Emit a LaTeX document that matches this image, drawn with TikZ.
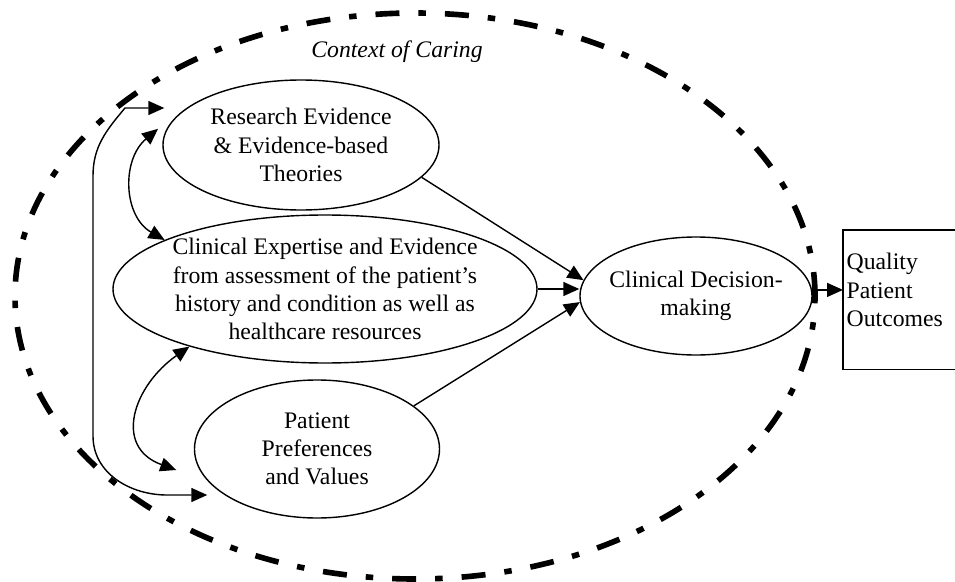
\documentclass[tikz,border=0pt]{standalone}
\usepackage{fontspec}
\setmainfont{Liberation Serif}
\usetikzlibrary{shapes.geometric,arrows.meta}
\begin{document}
\begin{tikzpicture}[line width=0.8pt,
  txt/.style={font=\fontsize{13.5}{16}\selectfont},
  oval/.style={txt,draw,ellipse,inner xsep=-0.15cm,inner ysep=0pt,align=center},
  tri/.style={-{Triangle[length=0.32cm,width=0.28cm]}},
  both/.style={{Triangle[length=0.32cm,width=0.28cm]}-{Triangle[length=0.32cm,width=0.28cm]}},
  context/.style={line width=3.2pt,dash pattern=on 0.48cm off 0.38cm on 0.15cm off 0.38cm}]
\useasboundingbox (0,0) rectangle (19.1,11.62);
% context of caring
\draw[context] (8.3,5.7) ellipse (8cm and 5.66cm);
\node[txt,font=\fontsize{13.5}{16}\selectfont\itshape] (ctx) at (7.94,10.58) {Context of Caring};
% the three sources
\node[oval,minimum width=5.52cm,minimum height=2.6cm] (res) at (6.02,8.72)
  {Research Evidence\\ \& Evidence-based\\ Theories};
\node[oval,minimum width=8.48cm,minimum height=2.96cm] (clin) at (6.5,5.84)
  {Clinical Expertise and Evidence\\ from assessment of the patient’s\\ history and condition as well as\\ healthcare resources};
\node[oval,minimum width=4.9cm,minimum height=2.76cm] (pat) at (6.34,2.64)
  {Patient\\ Preferences\\ and Values};
\node[oval,minimum width=4.64cm,minimum height=2.36cm] (dec) at (13.92,5.7)
  {Clinical Decision-\\ making};
% outcome box, open to the right edge
\node[anchor=north west,minimum width=2.4cm,minimum height=2.76cm] (qbox) at (16.86,7.02) {};
\draw (qbox.north east) -- (qbox.north west) -- (qbox.south west) -- (qbox.south east);
\node[txt,anchor=west,align=left,inner sep=0pt] (qual) at (16.92,5.82) {Quality\\ Patient\\ Outcomes};
% into the decision
\draw[tri] (res.-15) -- (dec.172);
\draw[tri] (clin.east) -- (clin.east -| dec.west);
\draw[tri] (pat.24) -- (dec.183);
\draw[tri] (dec.3) -- (dec.3 -| qbox.west);
% links between the sources
\draw[both] ([shift={(-0.2,-0.05)}]res.172) to[out=220,in=150,looseness=1.1] (clin.163);
\draw[both] (clin.203) to[out=215,in=160,looseness=1.4] ([shift={(-0.35,-0.42)}]pat.west);
\draw[both] ([shift={(0.04,0.74)}]res.west) -- (2.5,9.46) to[out=230,in=90] (1.86,8.1)
  -- (1.86,2.9) to[out=-90,in=180] (3.34,1.72) -- ([shift={(0.27,-0.92)}]pat.west);
\end{tikzpicture}
\end{document}
